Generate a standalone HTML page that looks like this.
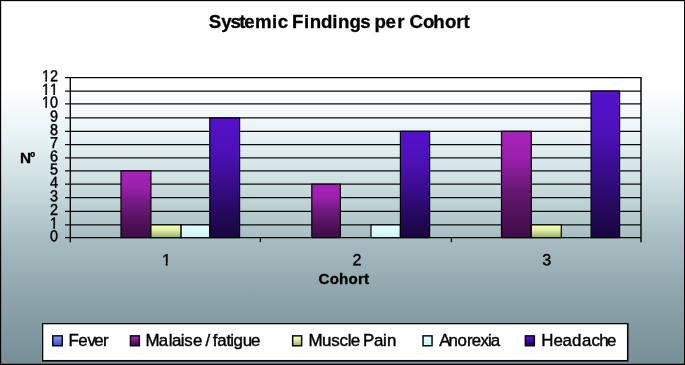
<!DOCTYPE html>
<html><head><meta charset="utf-8"><title>Systemic Findings per Cohort</title>
<style>
html,body{margin:0;padding:0;background:#fff;}
body{width:685px;height:365px;overflow:hidden;position:relative;font-family:"Liberation Sans",Arial,sans-serif;}
svg{position:absolute;left:0;top:0;display:block}
text{font-family:"Liberation Sans",Arial,sans-serif;fill:#000}
.b{font-weight:bold;stroke:#000;stroke-width:0.3px}
.t{stroke:#000;stroke-width:0.4px;font-kerning:none}
</style></head><body>
<svg width="685" height="365" viewBox="0 0 685 365">
<defs>
<linearGradient id="bg" x1="0" y1="0" x2="0" y2="1">
<stop offset="0" stop-color="#ffffff"/>
<stop offset="0.23" stop-color="#ffffff"/>
<stop offset="0.36" stop-color="#eaf4f5"/>
<stop offset="0.49" stop-color="#cfe0e3"/>
<stop offset="0.66" stop-color="#a6bcc1"/>
<stop offset="0.82" stop-color="#8ca3aa"/>
<stop offset="1" stop-color="#768e96"/>
</linearGradient>
<linearGradient id="gF" x1="0" y1="0" x2="0" y2="1"><stop offset="0" stop-color="#8e9eff"/><stop offset="1" stop-color="#3a4ac4"/></linearGradient>
<linearGradient id="gM" x1="0" y1="0" x2="0" y2="1"><stop offset="0" stop-color="#a623b8"/><stop offset="0.25" stop-color="#9b20ad"/><stop offset="0.47" stop-color="#741a82"/><stop offset="0.75" stop-color="#53125c"/><stop offset="1" stop-color="#3e0c46"/></linearGradient>
<linearGradient id="gP" x1="0" y1="0" x2="0" y2="1"><stop offset="0" stop-color="#fdffb8"/><stop offset="0.4" stop-color="#e2efa4"/><stop offset="1" stop-color="#94b066"/></linearGradient>
<linearGradient id="gA" x1="0" y1="0" x2="0" y2="1"><stop offset="0" stop-color="#e8ffff"/><stop offset="1" stop-color="#ccf4f8"/></linearGradient>
<linearGradient id="gH" x1="0" y1="0" x2="0" y2="1"><stop offset="0" stop-color="#5611cc"/><stop offset="0.3" stop-color="#4c10b6"/><stop offset="0.6" stop-color="#350b82"/><stop offset="0.8" stop-color="#25085c"/><stop offset="1" stop-color="#190640"/></linearGradient>
</defs>
<rect x="0" y="0" width="685" height="365" fill="url(#bg)"/>

<line x1="65.00" y1="237.60" x2="641.00" y2="237.60" stroke="#0a0a0a" stroke-width="1.25"/>
<line x1="65.00" y1="224.90" x2="641.00" y2="224.90" stroke="#0a0a0a" stroke-width="1.25"/>
<line x1="65.00" y1="211.40" x2="641.00" y2="211.40" stroke="#0a0a0a" stroke-width="1.25"/>
<line x1="65.00" y1="197.60" x2="641.00" y2="197.60" stroke="#0a0a0a" stroke-width="1.25"/>
<line x1="65.00" y1="184.20" x2="641.00" y2="184.20" stroke="#0a0a0a" stroke-width="1.25"/>
<line x1="65.00" y1="170.90" x2="641.00" y2="170.90" stroke="#0a0a0a" stroke-width="1.25"/>
<line x1="65.00" y1="157.80" x2="641.00" y2="157.80" stroke="#0a0a0a" stroke-width="1.25"/>
<line x1="65.00" y1="144.50" x2="641.00" y2="144.50" stroke="#0a0a0a" stroke-width="1.25"/>
<line x1="65.00" y1="131.30" x2="641.00" y2="131.30" stroke="#0a0a0a" stroke-width="1.25"/>
<line x1="65.00" y1="117.95" x2="641.00" y2="117.95" stroke="#0a0a0a" stroke-width="1.25"/>
<line x1="65.00" y1="103.80" x2="641.00" y2="103.80" stroke="#0a0a0a" stroke-width="1.25"/>
<line x1="65.00" y1="91.04" x2="641.00" y2="91.04" stroke="#0a0a0a" stroke-width="1.25"/>
<line x1="65.00" y1="77.56" x2="641.00" y2="77.56" stroke="#0a0a0a" stroke-width="1.25"/>
<line x1="70.30" y1="76.96" x2="70.30" y2="242.30" stroke="#0a0a0a" stroke-width="1.4"/>
<line x1="641.00" y1="76.96" x2="641.00" y2="242.20" stroke="#0a0a0a" stroke-width="1.5"/>
<line x1="260.40" y1="237.60" x2="260.40" y2="242.20" stroke="#0a0a0a" stroke-width="1.3"/>
<line x1="451.40" y1="237.60" x2="451.40" y2="242.20" stroke="#0a0a0a" stroke-width="1.3"/>
<rect x="121.00" y="170.90" width="29.90" height="66.70" fill="url(#gM)" stroke="#000" stroke-width="1.2"/>
<rect x="150.90" y="224.90" width="30.20" height="12.70" fill="url(#gP)" stroke="#000" stroke-width="1.2"/>
<rect x="181.10" y="224.90" width="28.60" height="12.70" fill="url(#gA)" stroke="#000" stroke-width="1.2"/>
<rect x="209.80" y="117.95" width="29.80" height="119.65" fill="url(#gH)" stroke="#000" stroke-width="1.2"/>
<rect x="311.80" y="184.20" width="28.60" height="53.40" fill="url(#gM)" stroke="#000" stroke-width="1.2"/>
<rect x="371.00" y="224.90" width="29.40" height="12.70" fill="url(#gA)" stroke="#000" stroke-width="1.2"/>
<rect x="400.40" y="131.30" width="29.20" height="106.30" fill="url(#gH)" stroke="#000" stroke-width="1.2"/>
<rect x="501.50" y="131.30" width="29.80" height="106.30" fill="url(#gM)" stroke="#000" stroke-width="1.2"/>
<rect x="531.30" y="224.90" width="30.00" height="12.70" fill="url(#gP)" stroke="#000" stroke-width="1.2"/>
<rect x="591.10" y="91.04" width="28.50" height="146.56" fill="url(#gH)" stroke="#000" stroke-width="1.2"/>
<g><text transform="translate(57.9 241.20) scale(1 1.1) rotate(0.03)" x="0" y="0" font-size="14.4" text-anchor="end" class="t">0</text></g>
<clipPath id="k1"><path clip-rule="evenodd" d="M0 0H685V365H0Z M49.69 226.22H53.31V229.50H49.69Z M54.99 226.22H58.45V229.50H54.99Z"/></clipPath>
<g clip-path="url(#k1)"><text transform="translate(57.9 228.50) scale(1 1.1) rotate(0.03)" x="0" y="0" font-size="14.4" text-anchor="end" class="t">1</text></g>
<g><text transform="translate(57.9 215.00) scale(1 1.1) rotate(0.03)" x="0" y="0" font-size="14.4" text-anchor="end" class="t">2</text></g>
<g><text transform="translate(57.9 201.20) scale(1 1.1) rotate(0.03)" x="0" y="0" font-size="14.4" text-anchor="end" class="t">3</text></g>
<g><text transform="translate(57.9 187.80) scale(1 1.1) rotate(0.03)" x="0" y="0" font-size="14.4" text-anchor="end" class="t">4</text></g>
<g><text transform="translate(57.9 174.50) scale(1 1.1) rotate(0.03)" x="0" y="0" font-size="14.4" text-anchor="end" class="t">5</text></g>
<g><text transform="translate(57.9 161.40) scale(1 1.1) rotate(0.03)" x="0" y="0" font-size="14.4" text-anchor="end" class="t">6</text></g>
<g><text transform="translate(57.9 148.10) scale(1 1.1) rotate(0.03)" x="0" y="0" font-size="14.4" text-anchor="end" class="t">7</text></g>
<g><text transform="translate(57.9 134.90) scale(1 1.1) rotate(0.03)" x="0" y="0" font-size="14.4" text-anchor="end" class="t">8</text></g>
<g><text transform="translate(57.9 121.55) scale(1 1.1) rotate(0.03)" x="0" y="0" font-size="14.4" text-anchor="end" class="t">9</text></g>
<clipPath id="k2"><path clip-rule="evenodd" d="M0 0H685V365H0Z M41.68 105.12H45.30V108.40H41.68Z M46.98 105.12H50.44V108.40H46.98Z"/></clipPath>
<g clip-path="url(#k2)"><text transform="translate(57.9 107.40) scale(1 1.1) rotate(0.03)" x="0" y="0" font-size="14.4" text-anchor="end" class="t">10</text></g>
<clipPath id="k3"><path clip-rule="evenodd" d="M0 0H685V365H0Z M41.68 92.36H45.30V95.64H41.68Z M46.98 92.36H53.31V95.64H46.98Z M54.99 92.36H58.45V95.64H54.99Z"/></clipPath>
<g clip-path="url(#k3)"><text transform="translate(57.9 94.64) scale(1 1.1) rotate(0.03)" x="0" y="0" font-size="14.4" text-anchor="end" class="t">11</text></g>
<clipPath id="k4"><path clip-rule="evenodd" d="M0 0H685V365H0Z M41.68 78.88H45.30V82.16H41.68Z M46.98 78.88H50.44V82.16H46.98Z"/></clipPath>
<g clip-path="url(#k4)"><text transform="translate(57.9 81.16) scale(1 1.1) rotate(0.03)" x="0" y="0" font-size="14.4" text-anchor="end" class="t">12</text></g>
<clipPath id="k5"><path clip-rule="evenodd" d="M0 0H685V365H0Z M161.80 262.95H165.72V266.25H161.80Z M167.54 262.95H171.29V266.25H167.54Z"/></clipPath>
<g clip-path="url(#k5)"><text transform="translate(166.35 265.25) rotate(0.03)" x="0" y="0" font-size="16.1" text-anchor="middle" class="t">1</text></g>
<g><text transform="translate(356.90 265.25) rotate(0.03)" x="0" y="0" font-size="16.1" text-anchor="middle" class="t">2</text></g>
<g><text transform="translate(546.80 265.25) rotate(0.03)" x="0" y="0" font-size="16.1" text-anchor="middle" class="t">3</text></g>
<text x="343.8" y="284.2" font-size="15.15" class="b" text-anchor="middle" textLength="50.5" lengthAdjust="spacing">Cohort</text>
<text x="20.1" y="162.7" font-size="15.3" class="b">N<tspan dx="-1.2" font-size="14" dy="-1.2">º</tspan></text>
<text y="28.3" font-size="18.67" class="b" x="208.7 221.2 230.6 239.3 244.2 255.1 272.1 277.7 287.0 292.1 304.1 309.7 320.9 332.2 337.9 349.4 360.2 370.0 374.4 385.6 397.2 404.0 409.5 423.1 433.2 444.9 456.2 463.6">Systemic Findings per Cohort</text>
<rect x="42.65" y="323.65" width="584.95" height="36.95" fill="#fff" stroke="#05080a" stroke-width="1.3"/>
<path d="M627.7 323V360.7H42" fill="none" stroke="#05080a" stroke-width="1.4"/>
<rect x="52.75" y="335.85" width="9.50" height="9.9" fill="url(#gF)" stroke="#0a0a14" stroke-width="1.5"/>
<text x="68.6 78.2 87.5 94.2 103.0" y="345.7" font-size="16.9" class="t">Fever</text>
<rect x="130.45" y="335.85" width="8.90" height="9.9" fill="url(#gM)" stroke="#0a0a14" stroke-width="1.5"/>
<text x="145.6 158.8 168.7 172.1 180.7 184.3 193.0 202.4 205.6 210.2 212.8 217.2 226.4 230.3 233.5 242.7 251.1" y="345.7" font-size="16.9" class="t">Malaise / fatigue</text>
<rect x="292.65" y="335.85" width="9.00" height="9.9" fill="url(#gP)" stroke="#0a0a14" stroke-width="1.5"/>
<text x="308.5 322.1 331.2 339.5 347.8 350.8 360.2 363.0 374.0 383.1 386.9" y="345.7" font-size="16.9" class="t">Muscle Pain</text>
<rect x="423.05" y="335.85" width="9.00" height="9.9" fill="url(#gA)" stroke="#0a0a14" stroke-width="1.5"/>
<text x="439.2 448.6 457.6 467.0 471.7 480.5 487.9 490.8" y="345.7" font-size="16.9" class="t">Anorexia</text>
<rect x="525.35" y="335.85" width="9.00" height="9.9" fill="url(#gH)" stroke="#0a0a14" stroke-width="1.5"/>
<text x="541.2 553.4 562.6 571.9 582.1 591.6 599.3 607.1" y="345.7" font-size="16.9" class="t">Headache</text>
<rect x="0" y="0" width="685" height="1.15" fill="#000"/>
<rect x="0" y="0" width="1.15" height="365" fill="#000"/>
<rect x="684" y="0" width="1" height="365" fill="#000"/>
<rect x="0" y="363.75" width="685" height="1.25" fill="#000"/>
</svg></body></html>
